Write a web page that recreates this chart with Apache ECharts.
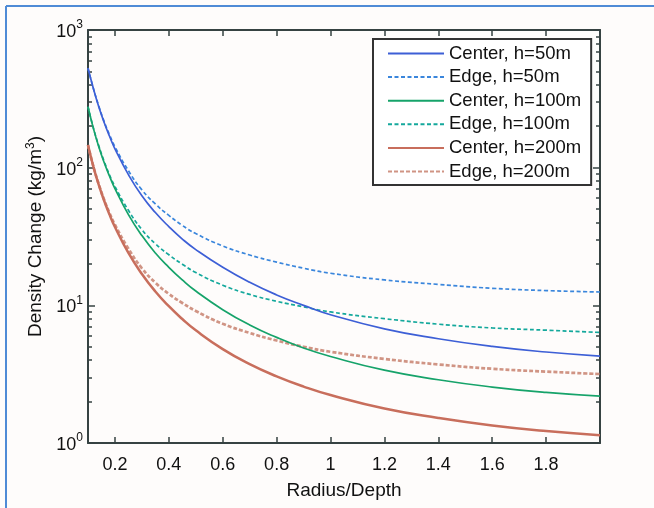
<!DOCTYPE html>
<html>
<head>
<meta charset="utf-8">
<script src="https://cdn.jsdelivr.net/npm/echarts@6/dist/echarts.min.js"></script>
<style>
html,body{margin:0;padding:0;background:#fefcfb;}
#chart{width:654px;height:508px;}
</style>
</head>
<body>
<div id="chart"></div>
<script>
// ---- data ----
const xValues = [0.1, 0.12, 0.14, 0.16, 0.18, 0.2, 0.25, 0.3, 0.35, 0.4, 0.45, 0.5, 0.6, 0.7, 0.8, 0.9, 1.0, 1.2, 1.4, 1.6, 1.8, 2.0];
const centerH50 = [530, 376, 277, 213, 169, 137, 89, 62.5, 47.2, 37.3, 30.3, 25.4, 18.9, 14.7, 11.9, 10.0, 8.55, 6.75, 5.72, 5.03, 4.58, 4.28];
const edgeH50   = [525, 376, 280, 216, 173, 142, 95, 69, 54.5, 45, 38.1, 33.2, 27.0, 23.2, 20.6, 18.6, 17.1, 15.3, 14.2, 13.3, 12.8, 12.5];
const centerH100 = [277, 193, 142, 109, 86.6, 70.5, 45.6, 32.1, 24.0, 18.9, 15.3, 12.7, 9.3, 7.2, 5.85, 4.9, 4.25, 3.38, 2.88, 2.55, 2.33, 2.19];
const edgeH100   = [277, 194, 144, 111, 88.5, 73, 49, 35.5, 28, 23.3, 19.9, 17.3, 14.0, 12.0, 10.7, 9.75, 8.95, 8.0, 7.3, 6.85, 6.6, 6.35];
const centerH200 = [146, 101.6, 74.9, 57.5, 45.6, 37.1, 24.0, 16.9, 12.6, 9.85, 7.95, 6.58, 4.81, 3.74, 3.05, 2.57, 2.23, 1.78, 1.52, 1.34, 1.22, 1.14];
const edgeH200   = [146, 102, 75.8, 58.5, 46.8, 38.5, 25.8, 18.6, 14.6, 12.1, 10.4, 9.1, 7.35, 6.3, 5.55, 5.0, 4.6, 4.08, 3.72, 3.46, 3.3, 3.17];

const seriesNames = ['Center, h=50m', 'Edge, h=50m', 'Center, h=100m', 'Edge, h=100m', 'Center, h=200m', 'Edge, h=200m'];

const xTickValues = [0.2, 0.4, 0.6, 0.8, 1, 1.2, 1.4, 1.6, 1.8];
const yMajorTicks = [1, 10, 100, 1000];
const yTickExponents = ['0', '1', '2', '3'];
const yMinorTicks = [2, 3, 4, 5, 6, 7, 8, 9, 20, 30, 40, 50, 60, 70, 80, 90, 200, 300, 400, 500, 600, 700, 800, 900];

// ---- chart ----
const FONT = '"Liberation Sans", Arial, Helvetica, sans-serif';
const AX = '#364242';
const zip = arr => xValues.map((x, i) => [x, arr[i]]);

const styles = [
  {color: '#3d5fd6', width: 1.7, type: 'solid'},
  {color: '#3a86dc', width: 1.7, type: [4, 2.5]},
  {color: '#16a36a', width: 1.7, type: 'solid'},
  {color: '#14a89c', width: 1.7, type: [4, 2.5]},
  {color: '#c86e5c', width: 2.5, type: 'solid'},
  {color: '#d09484', width: 2.7, type: [4, 2]}
];
const dataSets = [centerH50, edgeH50, centerH100, edgeH100, centerH200, edgeH200];

function xAx(pos, withLabels) {
  return {
    type: 'value', min: 0.1, max: 2, position: pos,
    axisLine: {show: true, onZero: false, lineStyle: {color: AX, width: 2}},
    axisTick: {show: true, inside: true, length: 6, customValues: xTickValues, lineStyle: {color: AX, width: 1.5}},
    axisLabel: withLabels ? {show: true, customValues: xTickValues, fontSize: 18, color: '#111', fontFamily: FONT, margin: 13} : {show: false},
    splitLine: {show: false},
    name: withLabels ? 'Radius/Depth' : '',
    nameLocation: 'middle', nameGap: 38,
    nameTextStyle: {fontSize: 19, color: '#111', fontFamily: FONT}
  };
}
function yAx(pos, ticks, len, withLine, withLabels) {
  const ax = {
    type: 'log', logBase: 10, min: 1, max: 1000, position: pos,
    axisLine: {show: withLine, onZero: false, lineStyle: {color: AX, width: 2}},
    axisTick: {show: true, inside: true, length: len, customValues: ticks, lineStyle: {color: AX, width: 1.5}},
    axisLabel: {show: false},
    splitLine: {show: false},
    minorTick: {show: false}
  };
  if (withLabels) {
    ax.axisLabel = {
      show: true, customValues: yMajorTicks, margin: 5, fontFamily: FONT,
      formatter: v => '{b|10}{s|' + yTickExponents[yMajorTicks.indexOf(v)] + '}',
      rich: {
        b: {fontSize: 18, color: '#111', fontFamily: FONT, verticalAlign: 'bottom'},
        s: {fontSize: 12, color: '#111', fontFamily: FONT, verticalAlign: 'bottom', padding: [0, 0, 10, 0]}
      }
    };
    ax.name = 'Density Change (kg/m{s|3})';
    ax.nameLocation = 'middle';
    ax.nameRotate = 90;
    ax.nameGap = 41;
    ax.nameTextStyle = {
      fontSize: 19, color: '#111', fontFamily: FONT,
      rich: {s: {fontSize: 12, color: '#111', fontFamily: FONT, verticalAlign: 'bottom', padding: [0, 0, 10, 0]}}
    };
  }
  return ax;
}

const chart = echarts.init(document.getElementById('chart'), null, {renderer: 'canvas'});
chart.setOption({
  backgroundColor: '#fefcfb',
  animation: false,
  textStyle: {fontFamily: FONT},
  grid: {left: 88, top: 30, right: 54, bottom: 65, containLabel: false},
  xAxis: [xAx('bottom', true), xAx('top', false)],
  yAxis: [
    yAx('left', yMajorTicks, 7, true, true),
    yAx('left', yMinorTicks, 4, false, false),
    yAx('right', yMajorTicks, 7, true, false),
    yAx('right', yMinorTicks, 4, false, false)
  ],
  legend: {
    orient: 'vertical', left: 373, top: 39,
    backgroundColor: '#ffffff', borderColor: '#333', borderWidth: 2, borderRadius: 0,
    padding: [5, 10, 4, 14],
    itemWidth: 56, itemHeight: 14, itemGap: 4.6,
    itemStyle: {opacity: 0},
    textStyle: {fontSize: 18.5, color: '#111', fontFamily: FONT},
    data: seriesNames
  },
  graphic: [
    {type: 'line', shape: {x1: 6, y1: 6, x2: 654, y2: 6}, style: {stroke: '#4f8bd6', lineWidth: 2}, silent: true},
    {type: 'line', shape: {x1: 6, y1: 6, x2: 6, y2: 508}, style: {stroke: '#4f8bd6', lineWidth: 2}, silent: true}
  ],
  series: dataSets.map((d, i) => ({
    name: seriesNames[i], type: 'line', xAxisIndex: 0, yAxisIndex: 0,
    data: zip(d), symbol: 'none', showSymbol: false,
    smooth: true,
    lineStyle: styles[i], itemStyle: {color: styles[i].color},
    z: 3 + (5 - i)
  }))
});
</script>
</body>
</html>
